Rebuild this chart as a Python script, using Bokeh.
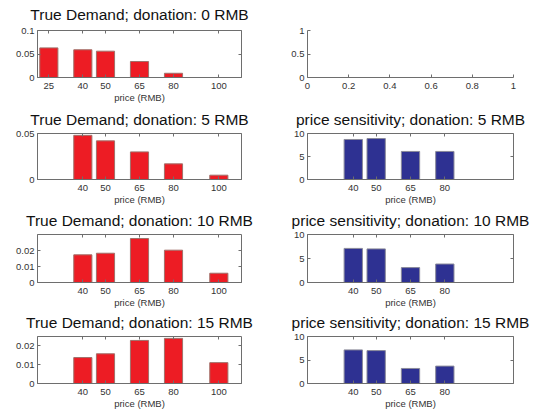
from bokeh.plotting import figure
from bokeh.layouts import column, row
from bokeh.models import Range1d, FixedTicker, NumeralTickFormatter, LinearAxis
from bokeh.embed import file_html
from bokeh.resources import INLINE

# ---------------- data ----------------
donations = [0, 5, 10, 15]
prices_row1 = [25, 40, 50, 65, 80, 100]
prices = [40, 50, 65, 80, 100]
prices_sens = [40, 50, 65, 80]

demand_0 = [0.063, 0.059, 0.056, 0.034, 0.009, 0.0]
demand_5 = [0.048, 0.042, 0.030, 0.017, 0.0047]
demand_10 = [0.0173, 0.0183, 0.0275, 0.0202, 0.0058]
demand_15 = [0.0138, 0.0158, 0.0229, 0.0240, 0.0111]

sens_5 = [8.7, 8.9, 6.1, 6.1]
sens_10 = [7.1, 7.0, 3.1, 3.85]
sens_15 = [7.15, 7.0, 3.2, 3.7]

demand_ymax = [0.1, 0.05, 0.03, 0.025]
demand_yticks = [[0, 0.05, 0.1], [0, 0.05], [0, 0.01, 0.02], [0, 0.01, 0.02]]
sens_ymax = 10
sens_yticks = [0, 5, 10]
empty_xticks = [0, 0.2, 0.4, 0.6, 0.8, 1]
empty_yticks = [0, 0.5, 1]

RED = "#ed1c24"
RED_EDGE = "#a0706a"
BLUE = "#2e3192"
BLUE_EDGE = "#8a8a9a"
AXIS = "#6e6e6e"
TXT = "#333333"
FONT = "Liberation Sans"

row_heights = [104, 101, 102, 103]
row_tops = [30, 28, 27, 26]
row_frames = [47, 46, 48, 47]
title_standoffs = [11, 8, 8, 7]


def style_axes(p, xticks, yticks):
    p.xgrid.visible = False
    p.ygrid.visible = False
    for ax in p.xaxis + p.yaxis:
        ax.axis_line_color = AXIS
        ax.major_tick_line_color = AXIS
        ax.major_tick_in = 3
        ax.major_tick_out = 0
        ax.minor_tick_line_color = None
        ax.major_label_text_font = FONT
        ax.major_label_text_font_size = "9.5px"
        ax.major_label_text_color = TXT
        ax.formatter = NumeralTickFormatter(format="0.[00]")
    p.xaxis.ticker = FixedTicker(ticks=xticks)
    p.yaxis.ticker = FixedTicker(ticks=yticks)
    p.xaxis.major_label_standoff = 5
    p.yaxis.major_label_standoff = 3


def mirror_ticks(p, xticks, yticks):
    # tick marks on the top and right edges of the box, as in the reference
    for side, ticks in (("above", xticks), ("right", yticks)):
        ax = LinearAxis(ticker=FixedTicker(ticks=ticks))
        ax.axis_line_color = None
        ax.major_tick_line_color = AXIS
        ax.major_tick_in = 3
        ax.major_tick_out = 0
        ax.minor_tick_line_color = None
        ax.major_label_text_color = None
        ax.major_label_text_font_size = "1px"
        ax.major_label_standoff = 0
        p.add_layout(ax, side)


def make_fig(r, col, xr, yr, title=None):
    h = row_heights[r]
    top = row_tops[r]
    fh = row_frames[r]
    bottom = h - top - fh
    if col == 0:
        fw, left, right = 204, 37, 37
    else:
        fw, left, right = 206, 29, 18
    kw = dict(frame_width=fw, frame_height=fh, x_range=xr, y_range=yr,
              output_backend="svg", toolbar_location=None,
              min_border_left=left, min_border_right=right,
              min_border_top=top, min_border_bottom=bottom)
    if title is not None:
        kw["title"] = title
    return figure(**kw)


def bar_panel(title, xs, ys, xticks, ymax, yticks, color, edge, r, col):
    p = make_fig(r, col, Range1d(20, 110), Range1d(0, ymax), title)
    p.vbar(x=xs, top=ys, width=8, fill_color=color, line_color=edge, line_width=1)
    p.outline_line_color = AXIS
    p.title.align = "center"
    p.title.vertical_align = "top"
    p.title.text_font = FONT
    p.title.text_font_style = "normal"
    p.title.text_font_size = "15.5px"
    p.title.text_color = "#111111"
    p.title.standoff = title_standoffs[r]
    style_axes(p, xticks, yticks)
    p.xaxis.axis_label = "price (RMB)"
    p.xaxis.axis_label_text_font = FONT
    p.xaxis.axis_label_text_font_size = "9.5px"
    p.xaxis.axis_label_text_font_style = "normal"
    p.xaxis.axis_label_text_color = TXT
    p.xaxis.axis_label_standoff = 0
    mirror_ticks(p, xticks, yticks)
    return p


def empty_panel():
    p = make_fig(0, 1, Range1d(0, 1), Range1d(0, 1))
    p.outline_line_color = None
    style_axes(p, empty_xticks, empty_yticks)
    return p


demands = [demand_0, demand_5, demand_10, demand_15]
sens = [None, sens_5, sens_10, sens_15]

rows = []
for i, d in enumerate(donations):
    xs = prices_row1 if i == 0 else prices
    left = bar_panel("True Demand; donation: %d RMB" % d, xs, demands[i], xs,
                     demand_ymax[i], demand_yticks[i], RED, RED_EDGE, i, 0)
    if i == 0:
        right = empty_panel()
    else:
        right = bar_panel("price sensitivity; donation: %d RMB" % d, prices_sens, sens[i],
                          prices_sens, sens_ymax, sens_yticks, BLUE, BLUE_EDGE, i, 1)
    rows.append(row(left, right))

layout = column(*rows)
open("out.html", "w").write(file_html(layout, INLINE))
